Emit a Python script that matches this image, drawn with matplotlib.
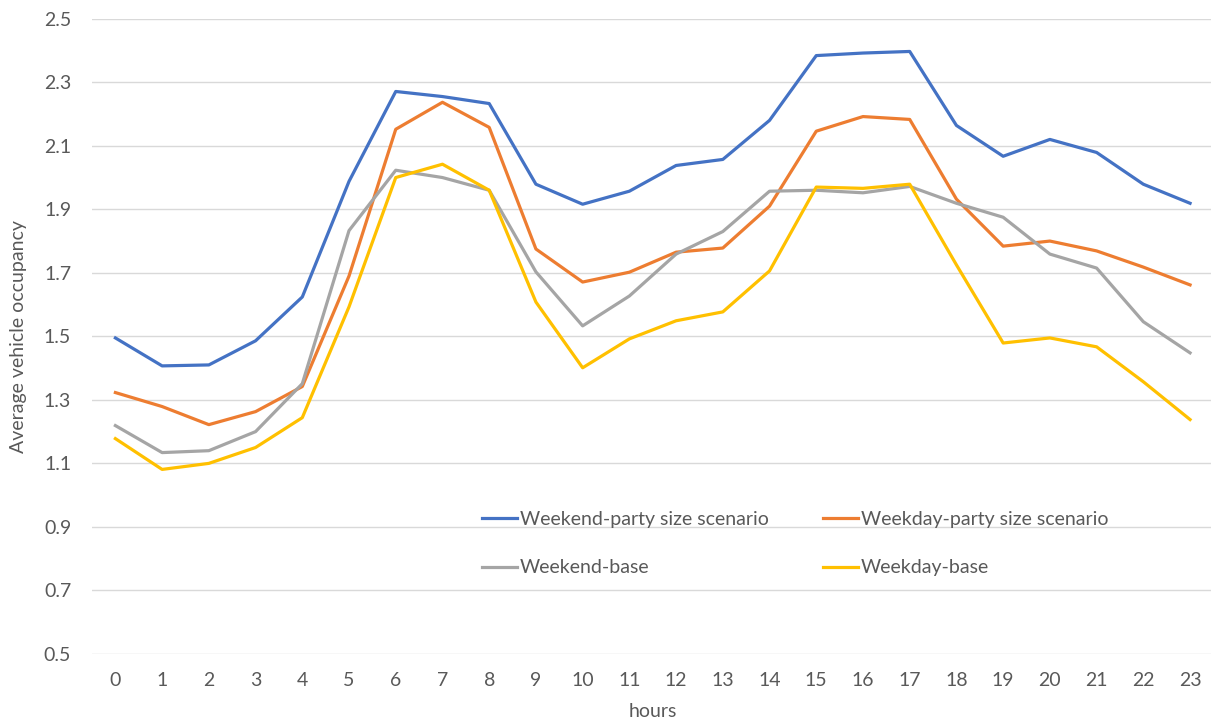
import matplotlib.pyplot as plt
import numpy as np

plt.rcParams['font.family'] = ['Lato', 'DejaVu Sans']

hours = list(range(24))

weekend_party = [1.495, 1.407, 1.410, 1.486, 1.624, 1.988, 2.271, 2.255, 2.233, 1.979,
                 1.916, 1.957, 2.038, 2.057, 2.180, 2.384, 2.392, 2.397, 2.164, 2.067,
                 2.120, 2.079, 1.979, 1.919]
weekday_party = [1.323, 1.279, 1.222, 1.263, 1.342, 1.690, 2.152, 2.237, 2.158, 1.775,
                 1.671, 1.702, 1.765, 1.778, 1.910, 2.146, 2.192, 2.183, 1.932, 1.784,
                 1.800, 1.769, 1.718, 1.662]
weekend_base = [1.219, 1.134, 1.140, 1.200, 1.351, 1.833, 2.023, 2.000, 1.960, 1.703,
                1.533, 1.627, 1.759, 1.830, 1.957, 1.960, 1.952, 1.972, 1.919, 1.875,
                1.759, 1.715, 1.546, 1.448]
weekday_base = [1.178, 1.081, 1.100, 1.150, 1.244, 1.593, 2.000, 2.042, 1.960, 1.608,
                1.401, 1.492, 1.549, 1.577, 1.706, 1.970, 1.966, 1.979, 1.725, 1.479,
                1.495, 1.467, 1.357, 1.238]

yticks = [0.5, 0.7, 0.9, 1.1, 1.3, 1.5, 1.7, 1.9, 2.1, 2.3, 2.5]

txt = '#595959'

fig = plt.figure(figsize=(12.11, 7.21), dpi=100)
ax = fig.add_axes([0.076, 0.093, 0.926, 0.881])

lw = 2.3
l1, = ax.plot(hours, weekend_party, color='#4472C4', lw=lw, label='Weekend-party size scenario')
l2, = ax.plot(hours, weekday_party, color='#ED7D31', lw=lw, label='Weekday-party size scenario')
l3, = ax.plot(hours, weekend_base, color='#A5A5A5', lw=lw, label='Weekend-base')
l4, = ax.plot(hours, weekday_base, color='#FFC000', lw=lw, label='Weekday-base')

ax.set_xlim(-0.5, 23.5)
ax.set_ylim(0.5, 2.5)
ax.set_xticks(hours)
ax.set_yticks(yticks)
ax.set_yticklabels([f'{v:.1f}' for v in yticks])
ax.grid(axis='y', color='#D9D9D9', lw=1)
ax.set_axisbelow(True)
for s in ax.spines.values():
    s.set_visible(False)
ax.tick_params(length=0, labelsize=14, colors=txt, pad=13)
ax.tick_params(axis='y', pad=15)

ax.set_xlabel('hours', fontsize=14, color=txt, labelpad=10)
ax.set_ylabel('Average vehicle occupancy', fontsize=14, color=txt, labelpad=12)

# two rows: party scenarios on top, base below
ax.legend([l1, l3, l2, l4], [l1.get_label(), l3.get_label(), l2.get_label(), l4.get_label()],
          ncol=2, frameon=False, fontsize=14, labelcolor=txt,
          handlelength=1.8, handletextpad=0.15, columnspacing=2.8, labelspacing=1.63,
          loc='upper left', bbox_to_anchor=(0.332, 0.253))

fig.savefig('out.png', dpi=100)
